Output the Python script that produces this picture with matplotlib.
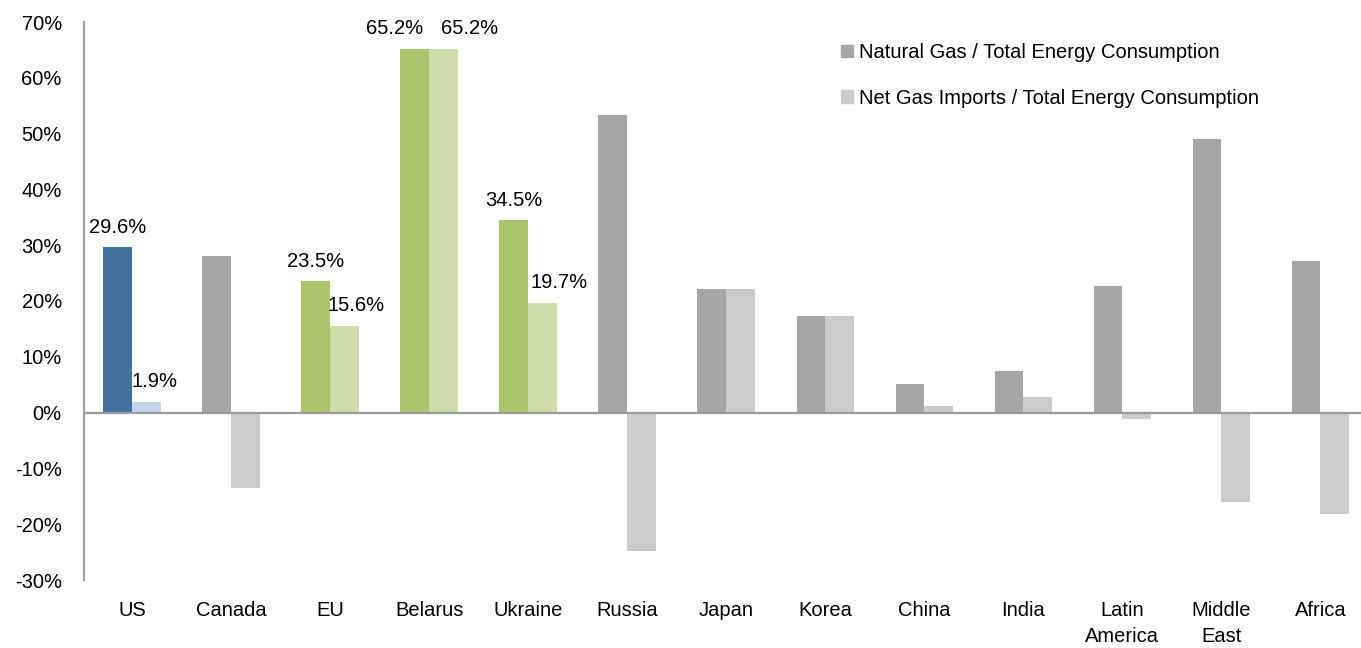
import matplotlib
matplotlib.use("Agg")
import matplotlib.pyplot as plt
from matplotlib import font_manager
from matplotlib.patches import Patch
import numpy as np

# ---- data ----
categories = ["US", "Canada", "EU", "Belarus", "Ukraine", "Russia", "Japan",
              "Korea", "China", "India", "Latin\nAmerica", "Middle\nEast", "Africa"]
natural_gas_share = [29.6, 28.0, 23.5, 65.2, 34.5, 53.4, 22.2, 17.4, 5.1, 7.5, 22.6, 49.0, 27.2]
net_imports_share = [1.9, -13.6, 15.6, 65.2, 19.7, -24.8, 22.2, 17.4, 1.2, 2.8, -1.1, -16.0, -18.1]
labelled = ["US", "EU", "Belarus", "Ukraine"]
series_names = ["Natural Gas / Total Energy Consumption",
                "Net Gas Imports / Total Energy Consumption"]
y_ticks = list(range(-30, 71, 10))

# ---- styling ----
names = {f.name for f in font_manager.fontManager.ttflist}
narrow = "Liberation Sans Narrow" in names
fam = "Liberation Sans Narrow" if narrow else "Liberation Sans"
fs = 16 if narrow else 14.5
plt.rcParams["font.family"] = [fam, "DejaVu Sans"]
plt.rcParams["font.size"] = fs

dark_gray, light_gray = "#A6A6A6", "#CBCBCB"
special_dark = {"US": "#44729F", "EU": "#AAC46C", "Belarus": "#AAC46C", "Ukraine": "#AAC46C"}
special_light = {"US": "#C2D5E7", "EU": "#CFDDAA", "Belarus": "#CFDDAA", "Ukraine": "#CFDDAA"}
# horizontal label offsets in pixels (dark, light)
label_dx = {"US": (0, 8), "EU": (0, 12), "Belarus": (-20, 26), "Ukraine": (0, 17)}

fig = plt.figure(figsize=(13.61, 6.48), dpi=100)
ax = fig.add_axes([84 / 1361, 68 / 648, 1277 / 1361, 558 / 648])

x = np.arange(len(categories))
w = 0.29
dark_cols = [special_dark.get(c, dark_gray) for c in categories]
light_cols = [special_light.get(c, light_gray) for c in categories]
ax.bar(x - w / 2, natural_gas_share, w, color=dark_cols, linewidth=0, zorder=2)
ax.bar(x + w / 2, net_imports_share, w, color=light_cols, linewidth=0, zorder=2)

ax.axhline(0, color="#9A9A9A", lw=1.6, zorder=3)

for i, c in enumerate(categories):
    if c in labelled:
        dxd, dxl = label_dx[c]
        for val, xpos, dx in ((natural_gas_share[i], x[i] - w / 2, dxd),
                              (net_imports_share[i], x[i] + w / 2, dxl)):
            ax.annotate(f"{val:.1f}%", (xpos, val), xytext=(dx * 0.72, 10.5),
                        textcoords="offset points", ha="center", va="baseline",
                        fontsize=fs, color="black", zorder=4)

ax.set_xlim(-0.485, 12.41)
ax.set_ylim(-30, 70)
ax.set_yticks(y_ticks)
ax.set_yticklabels([f"{t}%" for t in y_ticks])
ax.set_xticks(x)
ax.set_xticklabels(categories, linespacing=1.5)
ax.tick_params(axis="y", length=0, pad=16, labelsize=fs)
ax.tick_params(axis="x", length=0, pad=15, labelsize=fs)

for s in ["top", "right", "bottom"]:
    ax.spines[s].set_visible(False)
ax.spines["left"].set_color("#A0A0A0")
ax.spines["left"].set_linewidth(1.6)

handles = [Patch(color=dark_gray), Patch(color=light_gray)]
ax.legend(handles, series_names, loc="upper left",
          bbox_to_anchor=((841 - 84) / 1277, (580 - 43) / 558),
          frameon=False, handlelength=0.6, handleheight=0.6,
          handletextpad=0.3, labelspacing=1.32, fontsize=fs,
          borderaxespad=0, borderpad=0)

fig.savefig("out.png", dpi=100)
